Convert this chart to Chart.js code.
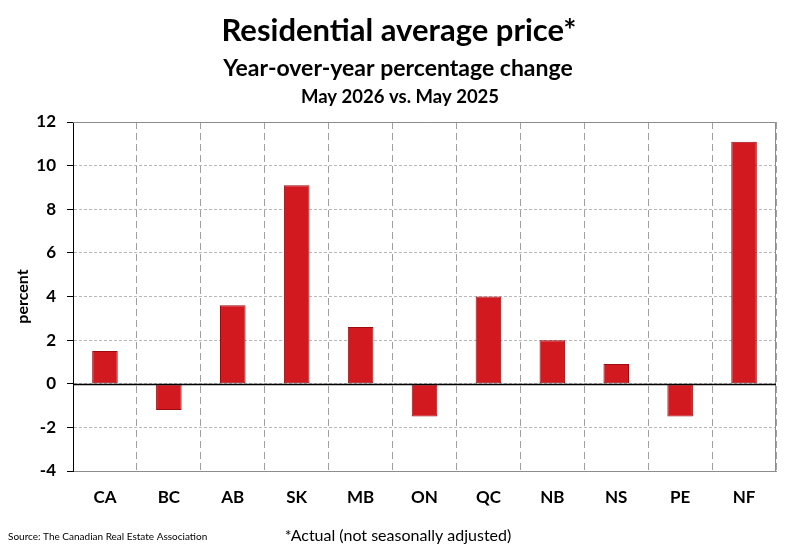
<!DOCTYPE html>
<html>
<head>
<meta charset="utf-8">
<script src="https://cdn.jsdelivr.net/npm/chart.js@4.4.1/dist/chart.umd.min.js"></script>
<style>
body{margin:0;background:#fff}
#wrap{position:relative;width:800px;height:548px}
</style>
</head>
<body>
<div id="wrap"><canvas id="myChart" width="800" height="548"></canvas></div>
<script>
// datos
const provincias=['CA','BC','AB','SK','MB','ON','QC','NB','NS','PE','NF']
const cambio=[1.5,-1.2,3.6,9.1,2.6,-1.5,4.0,2.0,0.9,-1.5,11.1]
const ticksY=[-4,-2,0,2,4,6,8,10,12]

const titulo='Residential average price*'
const subtitulo='Year-over-year percentage change'
const periodo='May 2026 vs. May 2025'
const fuente='Source: The Canadian Real Estate Association'
const nota='*Actual (not seasonally adjusted)'

const fuenteBase='Lato, "Open Sans", sans-serif'

// textos de arriba y abajo
const textos={
    id:'textos',
    afterDraw(chart){
        const ctx=chart.ctx
        ctx.save()
        ctx.fillStyle='#000'
        ctx.textBaseline='alphabetic'
        ctx.textAlign='center'
        ctx.font='bold 31px '+fuenteBase
        ctx.fillText(titulo,399,41)
        ctx.font='bold 23px '+fuenteBase
        ctx.fillText(subtitulo,398,76)
        ctx.font='bold 18.5px '+fuenteBase
        ctx.fillText(periodo,400,103)
        ctx.font='16px '+fuenteBase
        ctx.fillText(nota,398,541)
        ctx.textAlign='left'
        ctx.font='10px '+fuenteBase
        ctx.fillText(fuente,8,540)
        ctx.restore()
    }
}

// linea del cero y marco del area
const marco={
    id:'marco',
    afterDatasetsDraw(chart){
        const ctx=chart.ctx
        const a=chart.chartArea
        const y0=Math.round(chart.scales.y.getPixelForValue(0))+0.5
        ctx.save()
        ctx.strokeStyle='#8c8c8c'
        ctx.lineWidth=1
        ctx.beginPath()
        ctx.moveTo(Math.round(a.left),Math.round(a.top)+0.5)
        ctx.lineTo(Math.round(a.right)-0.5,Math.round(a.top)+0.5)
        ctx.lineTo(Math.round(a.right)-0.5,Math.round(a.bottom))
        ctx.stroke()
        ctx.strokeStyle='#000'
        ctx.lineWidth=1.5
        ctx.beginPath()
        ctx.moveTo(a.left,y0)
        ctx.lineTo(a.right,y0)
        ctx.stroke()
        ctx.restore()
    }
}

const ctx=document.getElementById('myChart').getContext('2d')
const myChart=new Chart(ctx,{
    type:'bar',
    data:{
        labels:provincias,
        datasets:[{
            label:'percent',
            data:cambio,
            backgroundColor:'#d2191f',
            borderColor:'#9e0b10',
            borderWidth:1,
            borderSkipped:false,
            barPercentage:0.4,
            categoryPercentage:1
        }]
    },
    options:{
        responsive:false,
        animation:false,
        devicePixelRatio:1,
        layout:{padding:{left:0,right:24,top:122,bottom:0}},
        plugins:{
            legend:{display:false},
            tooltip:{enabled:false}
        },
        scales:{
            x:{
                offset:true,
                afterFit(s){s.height=77},
                grid:{
                    offset:true,
                    color:'#a0a0a0',
                    lineWidth:1,
                    drawTicks:false
                },
                border:{display:true,color:'#8c8c8c',width:1,dash:[7,4]},
                ticks:{
                    padding:16,
                    color:'#000',
                    font:{family:fuenteBase,size:17,weight:'bold'}
                }
            },
            y:{
                min:-4,
                max:12,
                afterFit(s){s.width=73},
                afterBuildTicks(s){s.ticks=ticksY.map(v=>({value:v}))},
                grid:{
                    color:'#b8b8b8',
                    lineWidth:1,
                    drawTicks:true,
                    tickLength:6,
                    tickColor:'#000',
                    tickBorderDash:[]
                },
                border:{display:true,color:'#000',width:1,dash:[3,2]},
                ticks:{
                    padding:11,
                    color:'#000',
                    font:{family:fuenteBase,size:17,weight:'bold'}
                },
                title:{
                    display:true,
                    text:'percent',
                    color:'#000',
                    padding:{top:13,bottom:0},
                    font:{family:fuenteBase,size:16,weight:'bold'}
                }
            }
        }
    },
    plugins:[textos,marco]
})
</script>
</body>
</html>
